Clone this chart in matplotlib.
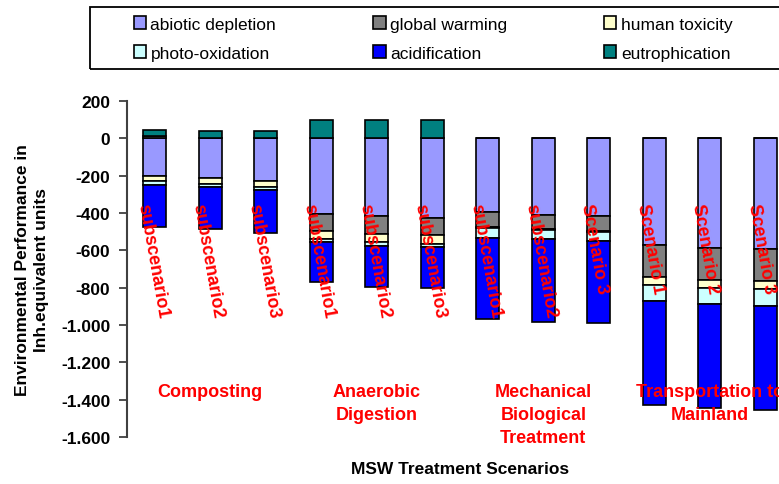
import numpy as np
from matplotlib import pyplot as plt
from matplotlib.patches import Rectangle
from matplotlib.ticker import FuncFormatter

plt.rcParams['font.family'] = ['Liberation Sans', 'DejaVu Sans']

scenarios = ['subscenario1', 'subscenario2', 'subscenario3',
             'subscenario1', 'subscenario2', 'subscenario3',
             'subscenario1', 'subscenario2', 'Scenario 3',
             'Scenario 1', 'Scenario 2', 'Scenario 3']
groups = ['Composting', 'Anaerobic\nDigestion',
          'Mechanical\nBiological\nTreatment', 'Transportation to\nMainland']

abiotic_depletion = [-200, -215, -231, -404, -418, -426, -397, -410, -418, -572, -587, -594]
global_warming = [12, 4, 4, -92, -94, -93, -80, -77, -78, -170, -171, -171]
human_toxicity = [-30, -32, -32, -44, -43, -46, -4, -4, -4, -45, -45, -43]
photo_oxidation = [-18, -14, -13, -18, -24, -18, -52, -49, -49, -86, -86, -88]
acidification = [-225, -225, -229, -214, -220, -218, -436, -442, -442, -557, -558, -557]
eutrophication = [32, 33, 33, 100, 100, 100, 4, 4, 4, 0, 0, 0]

series = [
    ('abiotic depletion', abiotic_depletion, '#9999FF'),
    ('global warming', global_warming, '#808080'),
    ('human toxicity', human_toxicity, '#FFFFCC'),
    ('photo-oxidation', photo_oxidation, '#CCFFFF'),
    ('acidification', acidification, '#0000FF'),
    ('eutrophication', eutrophication, '#008080'),
]

fig = plt.figure(figsize=(7.79, 4.85), dpi=100)
ax = fig.add_axes([127 / 779, 1 - 438 / 485, 666 / 779, 336 / 485])

x = np.arange(len(scenarios))
pos = np.zeros(len(x))
neg = np.zeros(len(x))
handles = {}
for name, vals, col in series:
    v = np.array(vals, dtype=float)
    bottom = np.where(v >= 0, pos, neg)
    b = ax.bar(x, v, width=0.42, bottom=bottom, color=col,
               edgecolor='black', linewidth=1.2, label=name, zorder=2)
    handles[name] = b
    pos = np.where(v >= 0, pos + v, pos)
    neg = np.where(v < 0, neg + v, neg)

# red scenario names across the bars
for i, s in enumerate(scenarios):
    ax.text(i - 0.22, -345, s, rotation=-80, rotation_mode='anchor',
            ha='left', va='center', color='red', fontsize=13,
            fontweight='bold', zorder=5)

for g, label in enumerate(groups):
    ax.text(3 * g + 1, -1310, label, ha='center', va='top', color='red',
            fontsize=13, fontweight='bold', linespacing=1.45)

ax.set_xlim(-0.5, 11.5)
ax.set_ylim(-1600, 200)
ax.set_yticks(range(-1600, 201, 200))
ax.yaxis.set_major_formatter(FuncFormatter(lambda v, p: f'{int(v):,}'.replace(',', '.')))
ax.set_xticks([])
for side in ['top', 'right', 'bottom']:
    ax.spines[side].set_visible(False)
ax.spines['left'].set_color('#404040')
ax.spines['left'].set_linewidth(1.5)
ax.tick_params(axis='y', length=6, width=1.3, color='#404040', labelsize=12.5, pad=6)
for t in ax.get_yticklabels():
    t.set_fontweight('bold')

ax.set_ylabel('Environmental Performance in\nInh.equivalent units',
              fontsize=12.5, fontweight='bold', va='center', linespacing=1.35)
ax.yaxis.set_label_coords(-95 / 666, 0.5)
ax.set_xlabel('MSW Treatment Scenarios', fontsize=12.5, fontweight='bold', va='center')
ax.xaxis.set_label_coords(0.5, -32 / 336)

order = ['abiotic depletion', 'photo-oxidation', 'global warming',
         'acidification', 'human toxicity', 'eutrophication']
fig.legend([handles[n] for n in order], order, ncol=3, frameon=False,
           loc='center left', bbox_to_anchor=(134 / 779, 1 - 39.5 / 485),
           borderpad=0, borderaxespad=0, fontsize=12.5,
           handlelength=0.7, handleheight=0.7, handletextpad=0.25,
           columnspacing=5.6, labelspacing=0.8)
fig.add_artist(Rectangle((90 / 779, 1 - 70 / 485), 1.0, 62 / 485,
                         transform=fig.transFigure, fill=False,
                         edgecolor='black', linewidth=1.3))

plt.savefig('out.png', dpi=100)
